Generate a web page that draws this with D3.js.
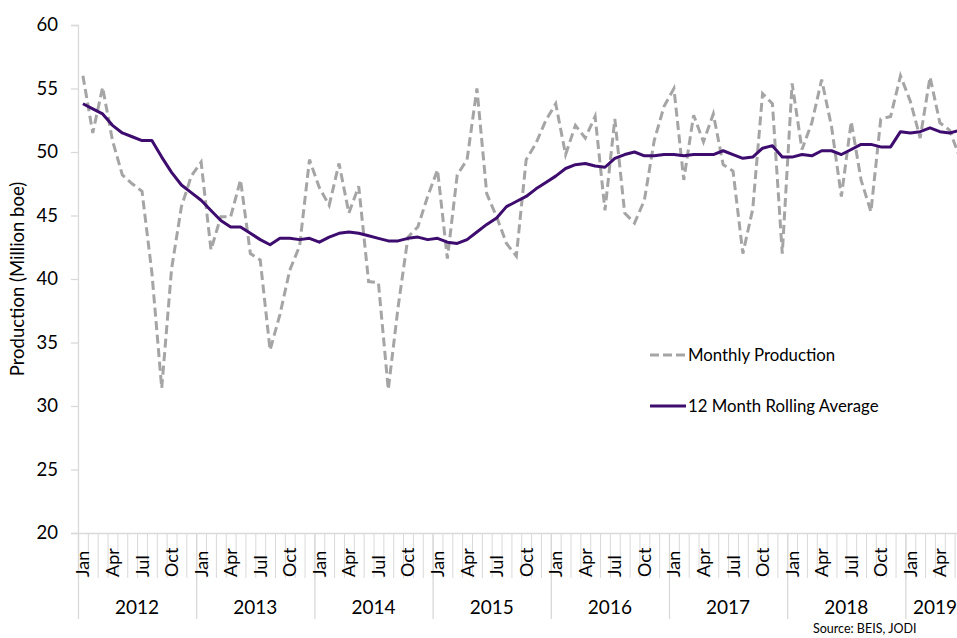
<!DOCTYPE html>
<html>
<head>
<meta charset="utf-8">
<script src="https://cdn.jsdelivr.net/npm/d3@7"></script>
<style>
	html, body { margin: 0; padding: 0; background: #fff; overflow: hidden; }
	text { font-family: Lato, "Noto Sans", sans-serif; fill: #000; }
</style>
</head>
<body>
<svg id="chart"></svg>
<script>
// Jan 2012 .. Jun 2019, one value per month
const years = ['2012', '2013', '2014', '2015', '2016', '2017', '2018', '2019'];
const monthNames = ['Jan', 'Feb', 'Mar', 'Apr', 'May', 'Jun', 'Jul', 'Aug', 'Sep', 'Oct', 'Nov', 'Dec'];
const shownMonths = ['Jan', 'Apr', 'Jul', 'Oct'];
const yTicks = [20, 25, 30, 35, 40, 45, 50, 55, 60];

const monthly = [
	56.0, 51.5, 55.1, 50.9, 48.2, 47.5, 46.9, 40.5, 31.4, 40.8, 45.7, 48.1,
	49.2, 42.3, 44.9, 44.9, 47.8, 42.0, 41.5, 34.4, 37.2, 40.7, 42.6, 49.4,
	47.2, 45.8, 49.1, 45.2, 47.3, 39.8, 39.7, 31.3, 37.8, 43.3, 44.1, 46.5,
	48.6, 41.6, 48.2, 49.4, 55.0, 46.7, 44.9, 42.8, 41.8, 49.4, 50.7, 52.5,
	53.8, 49.8, 52.1, 51.1, 52.8, 45.4, 52.6, 45.2, 44.4, 46.2, 50.9, 53.6,
	55.0, 47.8, 52.9, 50.8, 53.0, 49.0, 48.5, 42.0, 45.5, 54.6, 53.8, 42.0,
	55.4, 50.2, 52.3, 55.7, 52.0, 46.5, 52.4, 47.8, 45.3, 52.6, 52.8, 56.0,
	54.0, 51.1, 55.9, 52.3, 51.7, 49.6
];

const rolling = [
	53.8, 53.4, 53.0, 52.1, 51.5, 51.2, 50.9, 50.9, 49.6, 48.4, 47.4, 46.8,
	46.2, 45.4, 44.6, 44.1, 44.1, 43.6, 43.1, 42.7, 43.2, 43.2, 43.1, 43.2,
	42.9, 43.3, 43.6, 43.7, 43.6, 43.4, 43.2, 43.0, 43.0, 43.2, 43.3, 43.1,
	43.2, 42.9, 42.8, 43.1, 43.7, 44.3, 44.8, 45.7, 46.1, 46.5, 47.1, 47.6,
	48.1, 48.7, 49.0, 49.1, 48.9, 48.8, 49.5, 49.8, 50.0, 49.7, 49.7, 49.8,
	49.8, 49.7, 49.8, 49.8, 49.8, 50.1, 49.8, 49.5, 49.6, 50.3, 50.5, 49.6,
	49.6, 49.8, 49.7, 50.1, 50.1, 49.8, 50.2, 50.6, 50.6, 50.4, 50.4, 51.6,
	51.5, 51.6, 51.9, 51.6, 51.5, 51.7
];

const seriesNames = ['Monthly Production', '12 Month Rolling Average'];
const yTitle = 'Production (Million boe)';
const sourceNote = 'Source: BEIS, JODI';

const W = 975, H = 638;
const plotLeft = 78, plotTop = 25, plotBottom = 533;
const monthW = 9.85;
const nMonths = monthly.length;
const plotRight = plotLeft + monthW * nMonths;

const axisGrey = '#d9d9d9';
const lineGrey = '#a5a5a5';
const purple = '#3d0c6e';

const svg = d3.select('#chart').attr('width', W).attr('height', H);

const x = d3.scaleLinear().domain([0, nMonths]).range([plotLeft, plotRight]);
const y = d3.scaleLinear().domain([20, 60]).range([plotBottom, plotTop]);
const xc = i => x(i + 0.5);

// y axis
const yAxisG = svg.append('g')
	.attr('transform', `translate(${plotLeft},0)`)
	.call(d3.axisLeft(y).tickValues(yTicks).tickSize(7).tickPadding(13));
yAxisG.select('.domain').attr('stroke', axisGrey).attr('stroke-width', 1.3);
yAxisG.selectAll('.tick line').attr('stroke', axisGrey).attr('stroke-width', 1.3);
yAxisG.selectAll('.tick text').attr('font-size', 18.5).style('font-family', 'Lato, sans-serif');

// month ticks at boundaries
const monthAxisG = svg.append('g')
	.attr('transform', `translate(0,${plotBottom})`)
	.call(d3.axisBottom(x).tickValues(d3.range(0, nMonths + 1)).tickSize(45).tickFormat(''));
monthAxisG.select('.domain').attr('stroke', axisGrey).attr('stroke-width', 1.3);
monthAxisG.selectAll('.tick line').attr('stroke', axisGrey).attr('stroke-width', 1);

// year separators
const yearAxisG = svg.append('g')
	.attr('transform', `translate(0,${plotBottom})`)
	.call(d3.axisBottom(x).tickValues(d3.range(0, nMonths + 1, 12)).tickSize(86).tickFormat(''));
yearAxisG.select('.domain').remove();
yearAxisG.selectAll('.tick line').attr('stroke', axisGrey).attr('stroke-width', 1.3);

// month labels
const monthIdx = d3.range(nMonths).filter(i => shownMonths.includes(monthNames[i % 12]));
svg.append('g').selectAll('text')
	.data(monthIdx)
	.enter()
	.append('text')
	.attr('transform', i => `translate(${xc(i) + 6.5},577) rotate(-90)`)
	.attr('font-size', 18)
	.attr('text-anchor', 'start')
	.text(i => monthNames[i % 12]);

// year labels
svg.append('g').selectAll('text')
	.data(years)
	.enter()
	.append('text')
	.attr('x', (d, k) => (x(k * 12) + x(Math.min((k + 1) * 12, nMonths))) / 2)
	.attr('y', 614)
	.attr('font-size', 19)
	.attr('text-anchor', 'middle')
	.text(d => d);

// lines
const line = d3.line().x((d, i) => xc(i)).y(d => y(d));
svg.append('path')
	.datum(monthly)
	.attr('d', line)
	.attr('fill', 'none')
	.attr('stroke', lineGrey)
	.attr('stroke-width', 3)
	.attr('stroke-dasharray', '9,4.5');
svg.append('path')
	.datum(rolling)
	.attr('d', line)
	.attr('fill', 'none')
	.attr('stroke', purple)
	.attr('stroke-width', 3)
	.attr('stroke-linejoin', 'round');

// legend
const legend = svg.append('g').selectAll('g')
	.data(seriesNames)
	.enter()
	.append('g')
	.attr('transform', (d, i) => `translate(650,${355 + i * 51})`);
legend.append('line')
	.attr('x1', 0).attr('x2', 36)
	.attr('stroke', (d, i) => i === 0 ? lineGrey : purple)
	.attr('stroke-width', 3)
	.attr('stroke-dasharray', (d, i) => i === 0 ? '9,4' : null);
legend.append('text')
	.attr('x', 38)
	.attr('dy', '0.35em')
	.attr('font-size', 16.8)
	.text(d => d);

// axis title
svg.append('text')
	.attr('transform', `translate(24,${(plotTop + plotBottom) / 2}) rotate(-90)`)
	.attr('text-anchor', 'middle')
	.attr('font-size', 18.5)
	.text(yTitle);

svg.append('text')
	.attr('x', 813)
	.attr('y', 633)
	.attr('font-size', 12.5)
	.text(sourceNote);
</script>
</body>
</html>
